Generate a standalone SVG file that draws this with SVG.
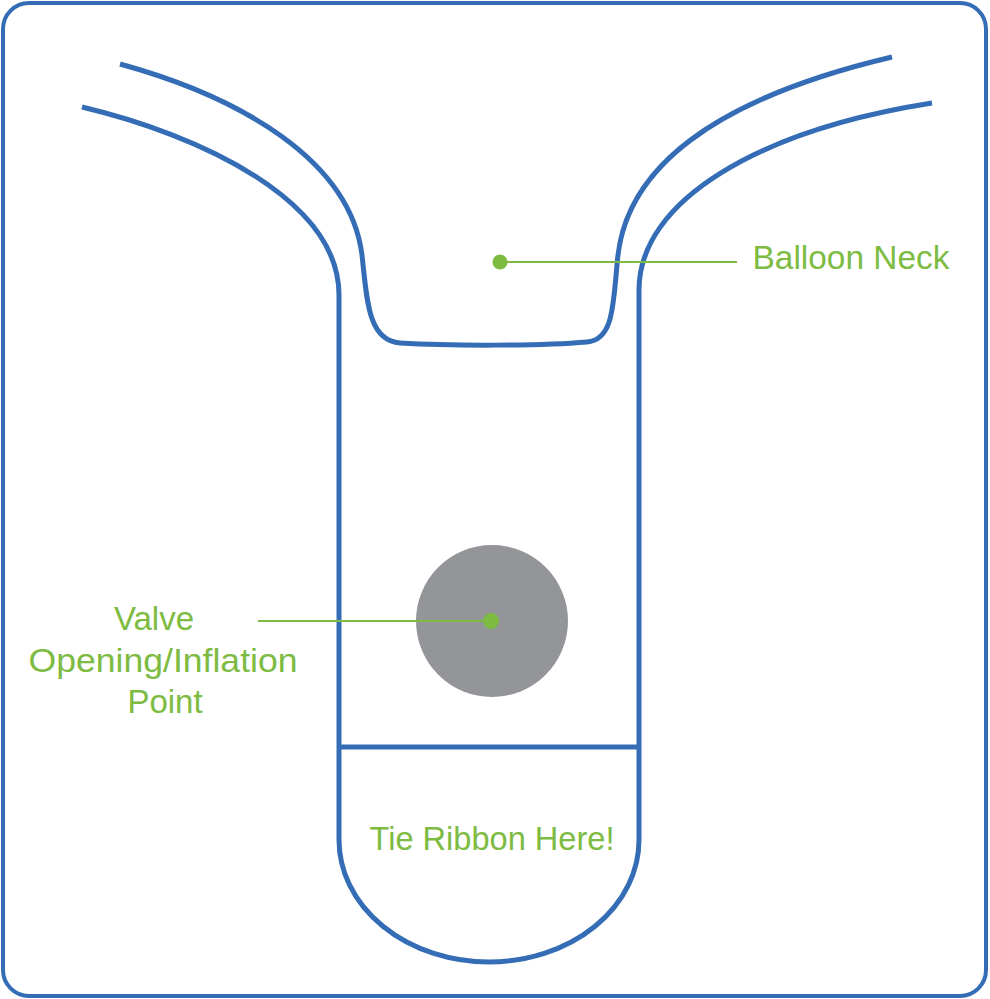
<svg xmlns="http://www.w3.org/2000/svg" width="990" height="999" viewBox="0 0 990 999">
<style>
.blue{fill:none;stroke:#346db5;stroke-width:5;stroke-linecap:butt;stroke-linejoin:round}
.lead{stroke:#7dbb42;stroke-width:2;fill:none}
.dot{fill:#7dbb42}
.lbl{font-family:"Liberation Sans",Arial,sans-serif;font-size:33px;fill:#7dbb42;text-anchor:middle}
</style>
<rect x="0" y="0" width="990" height="999" fill="#ffffff"/>
<rect id="frame" x="3" y="3" width="983" height="993" rx="26" ry="26" fill="none" stroke="#346db5" stroke-width="4"/>
<g id="balloon">
<path class="blue" d="M82,107 C200,135 339,200 339,295 L339,840 A150,122 0 0 0 639,840 L639,290 C639,200 760,130 932,103"/>
<path class="blue" d="M120,64 C240,97 350,160 362,255 C367,300 368,341 400,343 C450,346 540,346 587,342 C615,340 613,300 618,255 C628,170 710,100 892,57"/>
<line class="blue" x1="339" y1="747" x2="639" y2="747"/>
</g>
<g id="valve">
<circle cx="492" cy="621" r="76" fill="#939598"/>
</g>
<g id="connectors">
<line class="lead" x1="500" y1="262" x2="737" y2="262"/>
<circle class="dot" cx="500" cy="262" r="7.5"/>
<line class="lead" x1="258" y1="621" x2="491" y2="621"/>
<circle class="dot" cx="491" cy="621" r="8"/>
</g>
<g id="label-neck"><text class="lbl" x="851" y="269" textLength="197" lengthAdjust="spacingAndGlyphs">Balloon Neck</text></g>
<g id="label-valve">
<text class="lbl" x="154" y="630">Valve</text>
<text class="lbl" x="163" y="672" textLength="269" lengthAdjust="spacingAndGlyphs">Opening/Inflation</text>
<text class="lbl" x="165" y="713">Point</text>
</g>
<g id="label-tie"><text class="lbl" x="492" y="850" textLength="245" lengthAdjust="spacingAndGlyphs">Tie Ribbon Here!</text></g>
</svg>
